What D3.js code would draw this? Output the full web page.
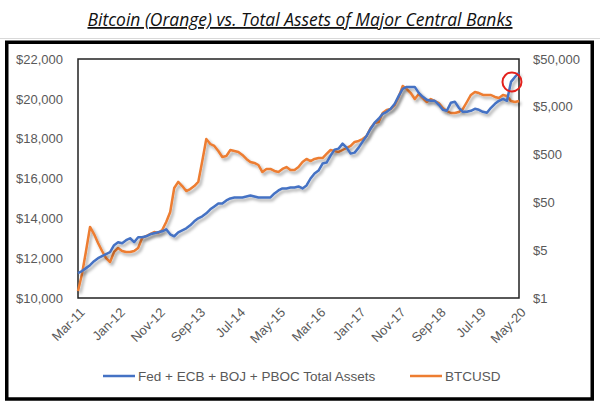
<!DOCTYPE html>
<html>
<head>
<meta charset="utf-8">
<script src="https://cdnjs.cloudflare.com/ajax/libs/d3/7.8.5/d3.min.js"></script>
<style>
  html, body { margin: 0; padding: 0; background: #fff; }
  svg { display: block; }
</style>
</head>
<body>
<svg id="chart" width="600" height="406"></svg>
<script>
// ---------------- DATA ----------------
const title = "Bitcoin (Orange) vs. Total Assets of Major Central Banks";
const seriesNames = ["Fed + ECB + BOJ + PBOC Total Assets", "BTCUSD"];
const startYear = 2011, startMonth = 2; // Mar-2011 (0-based month)
const monthCount = 111;                  // Mar-11 .. May-20
const xTickLabels = ["Mar-11","Jan-12","Nov-12","Sep-13","Jul-14","May-15","Mar-16","Jan-17","Nov-17","Sep-18","Jul-19","May-20"];
const leftTicks = [10000, 12000, 14000, 16000, 18000, 20000, 22000];
const rightTicks = [0.5, 5, 50, 500, 5000, 50000];
const rightTickLabels = ["$1", "$5", "$50", "$500", "$5,000", "$50,000"];

// Central bank total assets (left axis)
const cbAssets = [
  11250, 11350, 11500, 11650, 11850, 12000, 12100, 12200, 12300, 12650,
  12800, 12750, 12900, 13000, 12800, 13050, 13050, 13100, 13200, 13250,
  13300, 13350, 13450, 13200, 13100, 13300, 13400, 13500, 13650, 13850,
  14000, 14100, 14250, 14450, 14600, 14750, 14750, 14900, 15000, 15050,
  15050, 15050, 15100, 15150, 15100, 15050, 15050, 15050, 15050, 15250,
  15400, 15500, 15500, 15550, 15550, 15600, 15500, 15650, 16000, 16250,
  16400, 16750, 16800, 17150, 17450, 17500, 17750, 17550, 17250, 17300,
  17550, 17850, 18150, 18500, 18800, 19000, 19250, 19350, 19500, 19750,
  20150, 20500, 20600, 20600, 20600, 20300, 20100, 19950, 19900, 19900,
  19700, 19450, 19400, 19800, 19850, 19550, 19350, 19350, 19400, 19500,
  19450, 19350, 19300, 19550, 19750, 19900, 20000, 19900, 20850, 21100,
  21300
];

// BTCUSD (right axis, log)
const btcUsd = [
  0.70, 1.59, 4.81, 15.3, 10.9, 7.08, 4.81, 3.43, 2.83, 4.59,
  5.56, 4.81, 4.59, 4.59, 4.81, 5.56, 9.0, 9.91, 10.9, 12.0,
  11.5, 13.2, 19.5, 31.5, 100, 134, 110, 86.5, 95, 110,
  134, 367, 1060, 833, 757, 595, 446, 468, 624, 595,
  567, 491, 405, 350, 334, 303, 216, 250, 250, 227,
  216, 250, 275, 238, 238, 275, 350, 405, 367, 405,
  424, 424, 515, 624, 595, 567, 624, 687, 757, 918,
  963, 1060, 1225, 1800, 2290, 2404, 3710, 4285, 4500, 5455,
  8020, 13600, 11780, 9715, 7280, 9265, 7640, 6300, 7280, 6600,
  6000, 4720, 4085, 3710, 3710, 3890, 4500, 6300, 8830, 10200,
  9715, 8830, 8830, 8830, 8020, 7640, 8830, 8415, 6600, 6300,
  6600
];
const highlightIndex = 108; // red-circle annotation on the central bank line

// ---------------- CHART ----------------
const fmt = d3.timeFormat("%b-%y");
const categories = d3.range(monthCount).map(i => fmt(new Date(startYear, startMonth + i, 1)));

const svg = d3.select("#chart");
const plot = {left: 78, right: 519, top: 59, bottom: 298};
const blue = "#4472C4", orange = "#ED7D31", grey = "#595959";
const font = "'Liberation Sans', Arial, sans-serif";

const defs = svg.append("defs");
const f = defs.append("filter").attr("id", "shadow")
  .attr("x", "-10%").attr("y", "-10%").attr("width", "130%").attr("height", "130%");
f.append("feDropShadow").attr("dx", 2).attr("dy", 2.5).attr("stdDeviation", 1.6)
  .attr("flood-color", "#000").attr("flood-opacity", 0.35);

// title
svg.append("text")
  .attr("x", 300).attr("y", 26)
  .attr("text-anchor", "middle")
  .attr("font-family", "'Open Sans', sans-serif")
  .attr("font-style", "italic")
  .attr("font-size", 18)
  .attr("fill", "#111")
  .attr("text-decoration", "underline")
  .attr("textLength", 425)
  .attr("lengthAdjust", "spacingAndGlyphs")
  .text(title);

// separator line under title
svg.append("line").attr("x1", 0).attr("x2", 600).attr("y1", 38.5).attr("y2", 38.5)
  .attr("stroke", "#d9d9d9").attr("stroke-width", 1);

// outer frame
svg.append("rect").attr("x", 6.75).attr("y", 42.25).attr("width", 585.5).attr("height", 356.75)
  .attr("fill", "none").attr("stroke", "#000").attr("stroke-width", 3.5);

const x = d3.scalePoint().domain(categories).range([plot.left, plot.right]);
const yL = d3.scaleLinear().domain([10000, 22000]).range([plot.bottom, plot.top]);
const yR = d3.scaleLog().domain([0.5, 50000]).range([plot.bottom, plot.top]);

// plot area border
svg.append("rect").attr("x", plot.left).attr("y", plot.top)
  .attr("width", plot.right - plot.left).attr("height", plot.bottom - plot.top)
  .attr("fill", "none").attr("stroke", "#222").attr("stroke-width", 1.5);

// left axis
const gL = svg.append("g").attr("transform", `translate(${plot.left},0)`)
  .call(d3.axisLeft(yL).tickValues(leftTicks).tickSize(0).tickPadding(15)
    .tickFormat(d => "$" + d3.format(",")(d)));
// right axis
const gR = svg.append("g").attr("transform", `translate(${plot.right},0)`)
  .call(d3.axisRight(yR).tickValues(rightTicks).tickSize(0).tickPadding(14)
    .tickFormat((d, i) => rightTickLabels[i]));
// bottom axis
const gB = svg.append("g").attr("transform", `translate(0,${plot.bottom})`)
  .call(d3.axisBottom(x).tickValues(xTickLabels).tickSize(0));
gB.selectAll("text")
  .attr("text-anchor", "end")
  .attr("transform", d => `translate(4,12) rotate(-45)`)
  .attr("x", 0).attr("y", 0).attr("dy", "0.35em");

[gL, gR, gB].forEach(g => {
  g.select(".domain").remove();
  g.selectAll("text").attr("font-family", font).attr("font-size", 13).attr("fill", grey);
});

// lines
const lineL = d3.line().x((d, i) => x(categories[i])).y(d => yL(d));
const lineR = d3.line().x((d, i) => x(categories[i])).y(d => yR(d));

svg.append("path").datum(btcUsd).attr("d", lineR)
  .attr("fill", "none").attr("stroke", orange).attr("stroke-width", 2.5)
  .attr("stroke-linejoin", "round").attr("filter", "url(#shadow)");
svg.append("path").datum(cbAssets).attr("d", lineL)
  .attr("fill", "none").attr("stroke", blue).attr("stroke-width", 2.5)
  .attr("stroke-linejoin", "round").attr("filter", "url(#shadow)");

// red circle annotation
svg.append("circle")
  .attr("cx", x(categories[highlightIndex]) + 1)
  .attr("cy", yL(cbAssets[highlightIndex]))
  .attr("r", 9.5)
  .attr("fill", "none").attr("stroke", "#e3211c").attr("stroke-width", 2);

// legend
const legend = [
  {name: seriesNames[0], color: blue, x: 103},
  {name: seriesNames[1], color: orange, x: 410}
];
const lg = svg.append("g");
legend.forEach(l => {
  lg.append("line").attr("x1", l.x).attr("x2", l.x + 32).attr("y1", 376).attr("y2", 376)
    .attr("stroke", l.color).attr("stroke-width", 2.5);
  lg.append("text").attr("x", l.x + 35).attr("y", 376).attr("dy", "0.35em")
    .attr("font-family", font).attr("font-size", 13.5).attr("fill", grey)
    .text(l.name);
});
</script>
</body>
</html>
